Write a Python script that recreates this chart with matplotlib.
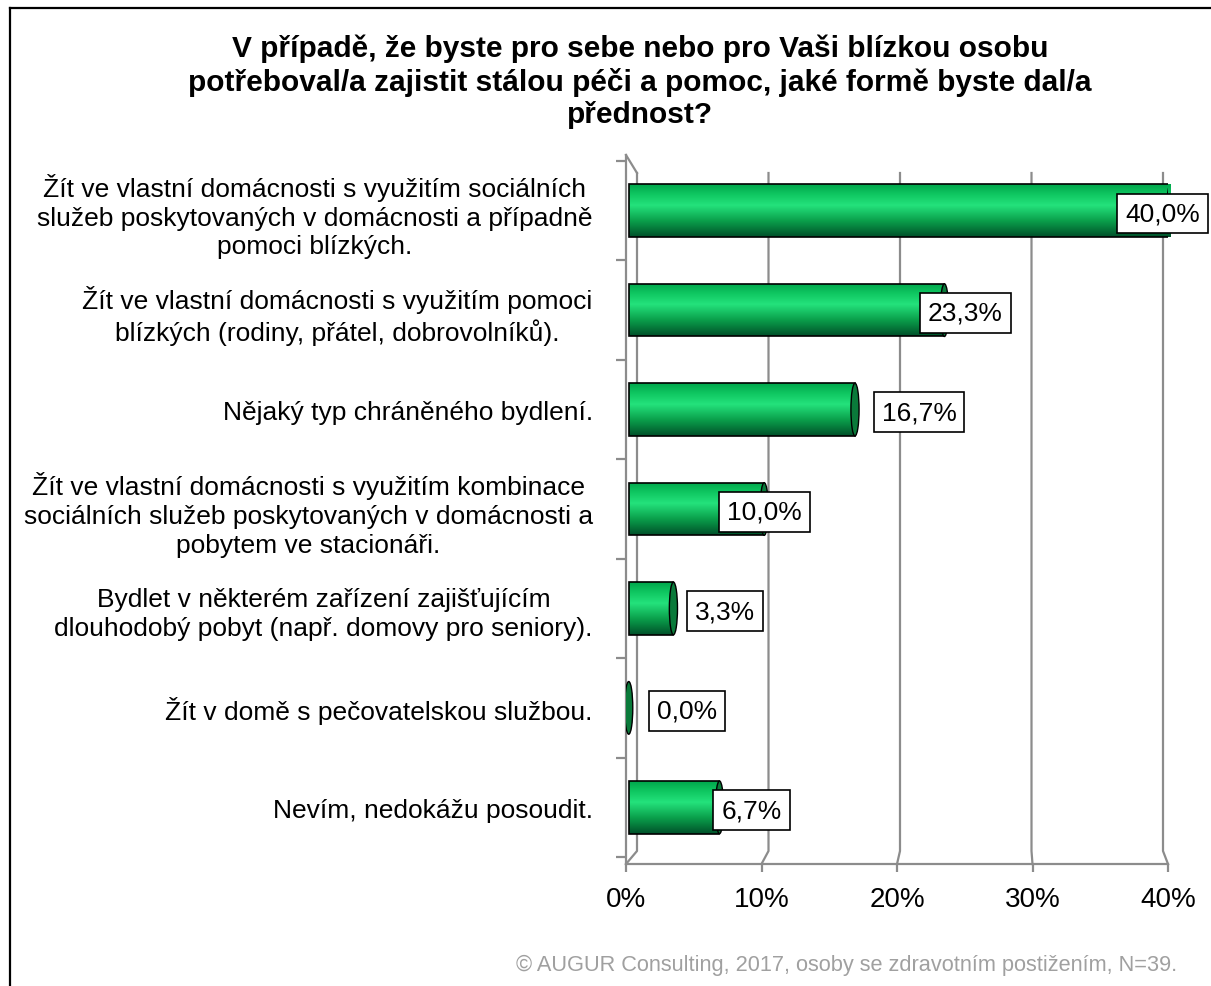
import numpy as np
import matplotlib.pyplot as plt
from matplotlib.colors import LinearSegmentedColormap
from matplotlib.patches import Ellipse
from matplotlib.transforms import blended_transform_factory

plt.rcParams['font.family'] = ['Liberation Sans', 'DejaVu Sans']

title = ("V případě, že byste pro sebe nebo pro Vaši blízkou osobu\n"
         "potřeboval/a zajistit stálou péči a pomoc, jaké formě byste dal/a\n"
         "přednost?")
categories = [
    "Žít ve vlastní domácnosti s využitím sociálních\nslužeb poskytovaných v domácnosti a případně\npomoci blízkých.",
    "Žít ve vlastní domácnosti s využitím pomoci\nblízkých (rodiny, přátel, dobrovolníků).",
    "Nějaký typ chráněného bydlení.",
    "Žít ve vlastní domácnosti s využitím kombinace\nsociálních služeb poskytovaných v domácnosti a\npobytem ve stacionáři.",
    "Bydlet v některém zařízení zajišťujícím\ndlouhodobý pobyt (např. domovy pro seniory).",
    "Žít v domě s pečovatelskou službou.",
    "Nevím, nedokážu posoudit.",
]
values = [0.400, 0.233, 0.167, 0.100, 0.033, 0.000, 0.067]
xticks = [0.0, 0.1, 0.2, 0.3, 0.4]
source = "© AUGUR Consulting, 2017, osoby se zdravotním postižením, N=39."

# label offsets (points) relative to bar end, as Excel placed them
label_dx = [-4, 17, 48, 2, 39, 44, 25]

fig = plt.figure(figsize=(12.11, 9.87), dpi=100)
ax = fig.add_axes([626 / 1211, 1 - 865 / 987, 542 / 1211, 709 / 987])

ylim = (6.57, -0.56)
ax.set_xlim(0, 0.4)
ax.set_ylim(*ylim)
y = np.arange(len(categories))
bh = 0.53

green = LinearSegmentedColormap.from_list(
    "g", [(0, "#00a64b"), (0.2, "#10c862"), (0.4, "#24e27c"),
          (0.7, "#0a9e4a"), (1.0, "#00502a")])
grad = np.linspace(0, 1, 256).reshape(-1, 1)

grid_c = "#8c8c8c"
bl = blended_transform_factory(ax.transData, ax.transAxes)
top_b, floor_b = (865 - 174) / 709, (865 - 852) / 709


def back_x(t):
    return t * (1 - 40 / 1355) + 11 / 1355


for t in xticks:
    xb = back_x(t)
    ax.plot([xb, xb, t], [top_b, floor_b, 0], color=grid_c, lw=1.6,
            transform=bl, zorder=1, clip_on=False)
ax.plot([0, back_x(0)], [1, top_b], color=grid_c, lw=1.6, transform=bl,
        zorder=1, clip_on=False)

bars = ax.barh(y, values, height=bh, left=0.002, color="none",
               edgecolor="black", lw=1.2, zorder=3)
for b, v in zip(bars, values):
    if v > 0:
        im = ax.imshow(grad, cmap=green, aspect="auto", zorder=2,
                       extent=[b.get_x(), b.get_x() + b.get_width(),
                               b.get_y() + b.get_height(), b.get_y()])
        im.set_clip_path(b)
    cap = Ellipse((b.get_x() + b.get_width(), b.get_y() + bh / 2), 0.006, bh,
                  facecolor="#0a7a3a", edgecolor="black", lw=1.0, zorder=4)
    ax.add_patch(cap)
ax.set_xlim(0, 0.4)
ax.set_ylim(*ylim)

for yi, v, dx in zip(y, values, label_dx):
    ax.annotate(f"{v * 100:.1f}%".replace(".", ","), (v, yi),
                xytext=(dx, -2), textcoords="offset points",
                ha="center", va="center", fontsize=19, zorder=6,
                bbox=dict(boxstyle="square,pad=0.3", fc="white",
                          ec="black", lw=1.2))

ax.set_xticks(xticks)
ax.set_xticklabels([f"{int(t * 100)}%" for t in xticks], fontsize=20)
ax.set_yticks(y)
ax.set_yticklabels(categories, fontsize=19, multialignment="center",
                   linespacing=1.25)
ax.set_yticks(np.arange(-0.5, 7, 1), minor=True)
ax.tick_params(axis="y", which="major", length=0, pad=24)
ax.tick_params(axis="y", which="minor", length=7, color=grid_c, width=1.6)
ax.tick_params(axis="x", length=6, color=grid_c, width=1.6, pad=10)
for s in ["top", "right"]:
    ax.spines[s].set_visible(False)
for s in ["left", "bottom"]:
    ax.spines[s].set_color(grid_c)
    ax.spines[s].set_linewidth(1.6)

fig.text(640 / 1211, 1 - 82 / 987, title, ha="center", va="center",
         fontsize=21.5, fontweight="bold", linespacing=1.2)
fig.text(1177 / 1211, 1 - 965 / 987, source, ha="right", va="center",
         fontsize=15.7, color="#a0a0a0")

fig.add_artist(plt.Line2D([10 / 1211, 10 / 1211], [0, 1 - 9 / 987],
                          color="black", lw=1.6, transform=fig.transFigure))
fig.add_artist(plt.Line2D([10 / 1211, 1], [1 - 9 / 987, 1 - 9 / 987],
                          color="black", lw=1.6, transform=fig.transFigure))

fig.savefig("out.png", dpi=100)
